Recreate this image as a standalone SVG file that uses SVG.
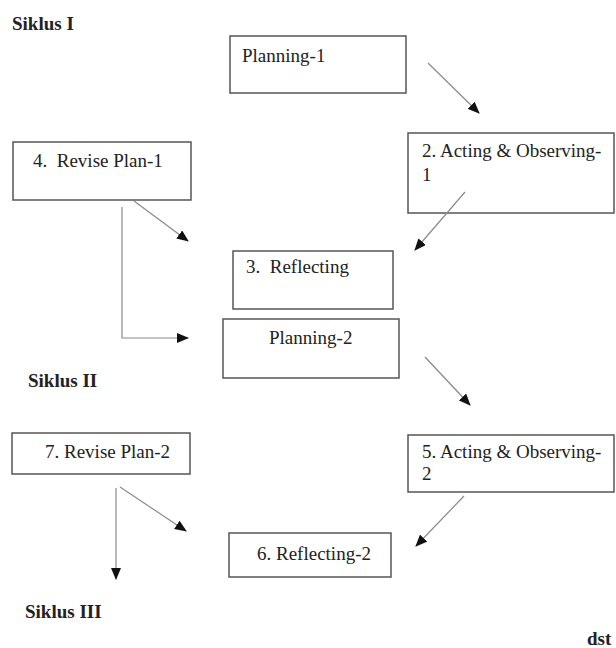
<svg xmlns="http://www.w3.org/2000/svg" width="616" height="648" viewBox="0 0 616 648">
<style>
.box{fill:#fff;stroke:#555;stroke-width:1.5}
.c{fill:none;stroke:#8a8a8a;stroke-width:1.2}
</style>
<defs>
<marker id="ah" markerWidth="12" markerHeight="10" refX="11" refY="5" orient="auto" markerUnits="userSpaceOnUse">
<path d="M0,0 L12,5 L0,10 Z" fill="#111"/>
</marker>
</defs>
<rect width="616" height="648" fill="#fff"/>
<text font-family="Liberation Serif, serif" font-size="19" font-weight="bold" fill="#222" x="12" y="30">Siklus I</text>
<text font-family="Liberation Serif, serif" font-size="19" font-weight="bold" fill="#222" x="28" y="387">Siklus II</text>
<text font-family="Liberation Serif, serif" font-size="19" font-weight="bold" fill="#222" x="25" y="618">Siklus III</text>
<text font-family="Liberation Serif, serif" font-size="19" font-weight="bold" fill="#222" x="587" y="645">dst</text>
<g id="n1"><rect class="box" x="230" y="36" width="176" height="57"/><text font-family="Liberation Serif, serif" font-size="19" fill="#222" x="242" y="62">Planning-1</text></g>
<g id="n2"><rect class="box" x="408" y="133" width="206" height="80"/><text font-family="Liberation Serif, serif" font-size="19" fill="#222" x="422" y="157">2. Acting &amp; Observing-</text><text font-family="Liberation Serif, serif" font-size="19" fill="#222" x="422" y="181">1</text></g>
<g id="n4"><rect class="box" x="13" y="142" width="178" height="58"/><text font-family="Liberation Serif, serif" font-size="19" fill="#222" x="33" y="167" xml:space="preserve">4.  Revise Plan-1</text></g>
<g id="n3"><rect class="box" x="233" y="251" width="160" height="58"/><text font-family="Liberation Serif, serif" font-size="19" fill="#222" x="246" y="273" xml:space="preserve">3.  Reflecting</text></g>
<g id="n5"><rect class="box" x="223" y="319" width="176" height="59"/><text font-family="Liberation Serif, serif" font-size="19" fill="#222" x="269" y="344">Planning-2</text></g>
<g id="n7"><rect class="box" x="12" y="433" width="178" height="41"/><text font-family="Liberation Serif, serif" font-size="19" fill="#222" x="45" y="458">7. Revise Plan-2</text></g>
<g id="n6"><rect class="box" x="408" y="435" width="206" height="57"/><text font-family="Liberation Serif, serif" font-size="19" fill="#222" x="422" y="458">5. Acting &amp; Observing-</text><text font-family="Liberation Serif, serif" font-size="19" fill="#222" x="422" y="480">2</text></g>
<g id="n8"><rect class="box" x="229" y="533" width="162" height="44"/><text font-family="Liberation Serif, serif" font-size="19" fill="#222" x="257" y="560">6. Reflecting-2</text></g>
<g id="connectors">
<line class="c" x1="428" y1="63" x2="479" y2="113" marker-end="url(#ah)"/>
<line class="c" x1="465" y1="192" x2="415" y2="250" marker-end="url(#ah)"/>
<line class="c" x1="134" y1="201" x2="188" y2="241" marker-end="url(#ah)"/>
<polyline class="c" points="122,207 122,338 188,338" marker-end="url(#ah)"/>
<line class="c" x1="425" y1="357" x2="470" y2="405" marker-end="url(#ah)"/>
<line class="c" x1="464" y1="496" x2="416" y2="546" marker-end="url(#ah)"/>
<line class="c" x1="120" y1="487" x2="186" y2="531" marker-end="url(#ah)"/>
<line class="c" x1="116" y1="488" x2="116" y2="579" marker-end="url(#ah)"/>
</g>
</svg>
